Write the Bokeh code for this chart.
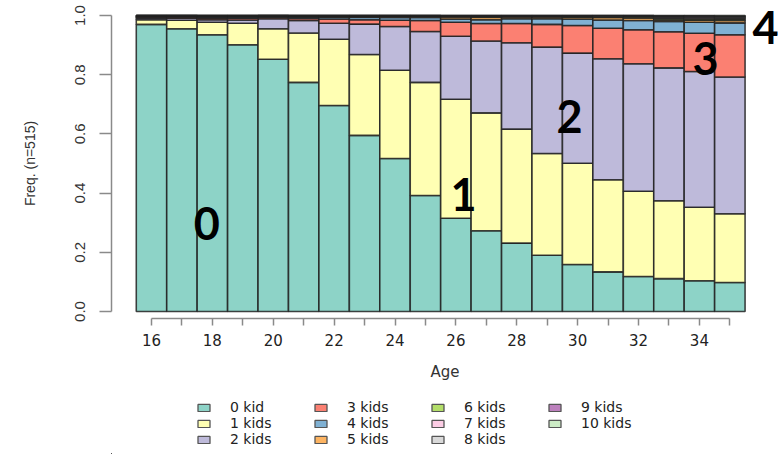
from bokeh.plotting import figure
from bokeh.layouts import column
from bokeh.models import ColumnDataSource, FixedTicker, Legend, LegendItem, Range1d, PrintfTickFormatter
from bokeh.core.properties import value
from bokeh.embed import file_html
from bokeh.resources import INLINE

ages = list(range(16, 36))
kid_labels = ["0 kid", "1 kids", "2 kids", "3 kids", "4 kids", "5 kids",
              "6 kids", "7 kids", "8 kids", "9 kids", "10 kids"]
colors = ["#8DD3C7", "#FFFFB3", "#BEBADA", "#FB8072", "#80B1D3", "#FDB462",
          "#B3DE69", "#FCCDE5", "#D9D9D9", "#BC80BD", "#CCEBC5"]

# proportion of women by number of kids, per age (ages 16..35)
k0 = [.970, .955, .935, .901, .852, .774, .696, .595, .517, .392,
      .315, .273, .231, .190, .159, .134, .118, .111, .104, .098]
k1 = [.016, .029, .042, .073, .103, .167, .224, .273, .298, .382,
      .402, .398, .385, .344, .342, .311, .288, .263, .248, .232]
k2 = [.006, .007, .009, .011, .034, .042, .054, .103, .148, .172,
      .213, .243, .292, .359, .372, .409, .431, .449, .459, .462]
k3 = [.003, .004, .006, .006, .005, .007, .014, .015, .021, .037,
      .047, .059, .065, .077, .093, .103, .115, .122, .129, .143]
k4 = [.002, .002, .003, .004, .003, .005, .006, .008, .009, .010,
      .011, .013, .016, .019, .022, .028, .031, .035, .037, .040]
k5 = [.001, .001, .002, .002, .001, .002, .003, .003, .004, .004,
      .007, .008, .006, .006, .006, .008, .009, .006, .007, .008]
k6 = [.001, .001, .001, .001, .001, .001, .001, .001, .001, .001,
      .002, .003, .002, .002, .003, .003, .004, .005, .005, .005]
k7 = [.001, .001, .001, .001, .001, .001, .001, .001, .001, .001,
      .001, .001, .001, .001, .001, .001, .002, .003, .004, .004]
k8 = [.000, .000, .001, .001, .000, .001, .001, .001, .001, .001,
      .001, .001, .001, .001, .001, .002, .001, .004, .004, .004]
k9 = [.000, .000, .000, .000, .000, .000, .000, .000, .000, .000,
      .001, .001, .001, .001, .001, .001, .001, .001, .002, .002]
k10 = [.000, .000, .000, .000, .000, .000, .000, .000, .000, .000,
       .000, .000, .000, .000, .000, .000, .000, .001, .001, .002]

x_major = [16, 18, 20, 22, 24, 26, 28, 30, 32, 34]
x_minor = [17, 19, 21, 23, 25, 27, 29, 31, 33, 35]
y_ticks = [0.0, 0.2, 0.4, 0.6, 0.8, 1.0]

ann_text = ["0", "1", "2", "3", "4"]
ann_x = [17.82, 26.25, 29.73, 34.2, 36.17]
ann_y = [0.297, 0.395, 0.659, 0.856, 0.959]

series = [k0, k1, k2, k3, k4, k5, k6, k7, k8, k9, k10]
names = ["k%d" % i for i in range(11)]
data = {"age": ages}
for n, s in zip(names, series):
    data[n] = s
source = ColumnDataSource(data)

p = figure(width=778, height=392,
           x_range=Range1d(14.686, 36.598), y_range=Range1d(-0.02365, 1.02365),
           output_backend="svg", toolbar_location=None,
           min_border_left=111, min_border_right=0, min_border_top=8,
           min_border_bottom=74)
p.xgrid.visible = False
p.ygrid.visible = False
p.outline_line_color = None
p.background_fill_color = "white"

rends = p.vbar_stack(names, x="age", width=1.0, source=source,
                     fill_color=colors, line_color="#222222", line_width=1.6,
                     line_alpha=0.85)

p.text(x=ann_x, y=ann_y, text=ann_text, text_font=value("Lato"),
       text_font_style="bold", text_font_size="45px", text_align="center",
       text_baseline="middle", text_color="black")

# axes
xa = p.xaxis[0]
xa.ticker = FixedTicker(ticks=x_major, minor_ticks=x_minor)
xa.bounds = (16, 35)
xa.axis_line_color = "#8a8a8a"
xa.axis_line_width = 1.5
xa.major_tick_line_color = "#8a8a8a"
xa.minor_tick_line_color = "#8a8a8a"
xa.major_tick_line_width = 1.5
xa.minor_tick_line_width = 1.5
xa.major_tick_in = 0
xa.major_tick_out = 7
xa.minor_tick_in = 0
xa.minor_tick_out = 7
xa.major_label_text_font = "DejaVu Sans"
xa.major_label_text_font_size = "15px"
xa.major_label_text_color = "#222222"
xa.major_label_standoff = 8
xa.axis_label = "Age"
xa.axis_label_text_font = "DejaVu Sans"
xa.axis_label_text_font_size = "15px"
xa.axis_label_text_font_style = "normal"
xa.axis_label_text_color = "#333333"
xa.axis_label_standoff = 14

ya = p.yaxis[0]
ya.ticker = FixedTicker(ticks=y_ticks)
ya.formatter = PrintfTickFormatter(format="%.1f")
ya.bounds = (0, 1)
ya.axis_line_color = "#8a8a8a"
ya.axis_line_width = 1.5
ya.major_tick_line_color = "#8a8a8a"
ya.major_tick_line_width = 1.5
ya.major_tick_in = 0
ya.major_tick_out = 12
ya.minor_tick_line_color = None
ya.major_label_orientation = "vertical"
ya.major_label_text_font = "Liberation Sans"
ya.major_label_text_font_size = "15px"
ya.major_label_text_color = "#333333"
ya.major_label_standoff = 14
ya.axis_label = "Freq. (n=515)"
ya.axis_label_text_font = "Liberation Sans"
ya.axis_label_text_font_size = "14px"
ya.axis_label_text_font_style = "normal"
ya.axis_label_text_color = "#333333"
ya.axis_label_standoff = 35

# legend figure: same stack, kept far outside its visible ranges, only keys show
p2 = figure(width=778, height=62, x_range=Range1d(100, 101), y_range=Range1d(50, 51),
            output_backend="svg", toolbar_location=None,
            min_border_left=0, min_border_right=0, min_border_top=0,
            min_border_bottom=0)
p2.axis.visible = False
p2.xgrid.visible = False
p2.ygrid.visible = False
p2.outline_line_color = None
keys = p2.vbar_stack(names, x="age", width=1.0, source=source,
                     fill_color=colors, line_color="#555555", line_width=1.3)
items = [LegendItem(label=lab, renderers=[r]) for lab, r in zip(kid_labels, keys)]
legend = Legend(items=items, orientation="vertical", nrows=3,
                location=(85, 7), margin=0, padding=0, spacing=0,
                glyph_width=15, glyph_height=9, label_standoff=19,
                label_width=83, label_height=16,
                label_text_font="DejaVu Sans", label_text_font_size="14px",
                label_text_color="#222222",
                border_line_color=None, background_fill_alpha=0)
p2.add_layout(legend)

open("out.html", "w").write(file_html(column(p, p2, spacing=0), INLINE))
